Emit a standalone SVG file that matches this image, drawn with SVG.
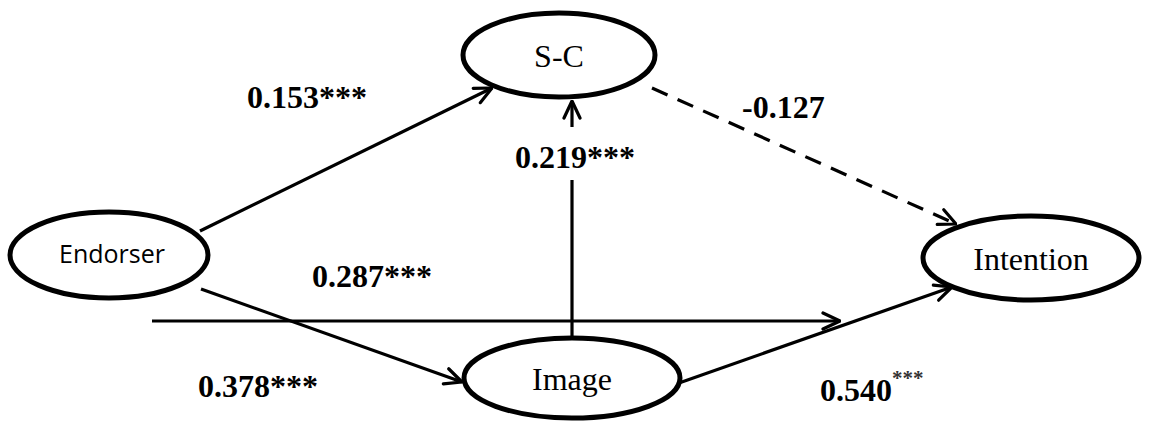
<svg xmlns="http://www.w3.org/2000/svg" width="1158" height="428" viewBox="0 0 1158 428">
  <style>
    .node { fill: #ffffff; stroke: #000000; stroke-width: 5; }
    .lbl { font-family: "Liberation Serif", "Times New Roman", serif; font-size: 32px; fill: #000000; }
    .sans { font-family: "Open Sans", "Liberation Sans", Arial, sans-serif; font-size: 25px; fill: #000000; }
    .coef { font-family: "Liberation Serif", "Times New Roman", serif; font-size: 32px; font-weight: bold; fill: #000000; }
    .sup { font-family: "Liberation Serif", "Times New Roman", serif; font-size: 21px; fill: #333333; }
    .link { stroke: #000000; stroke-width: 3.2; fill: none; }
    .dash { stroke-dasharray: 17 11; }
  </style>
  <defs>
    <marker id="open" viewBox="0 0 20 20" refX="19" refY="10" markerWidth="20" markerHeight="20" markerUnits="userSpaceOnUse" orient="auto">
      <path d="M2,2 L19,10 L2,18" fill="none" stroke="#000000" stroke-width="3.2" stroke-linecap="round" stroke-linejoin="round"/>
    </marker>
  </defs>

  <rect width="1158" height="428" fill="#ffffff"/>

  <!-- paths between constructs -->
  <g id="connectors">
    <line class="link" x1="200" y1="231" x2="492" y2="88" marker-end="url(#open)"/>
    <line class="link" x1="201" y1="289" x2="462" y2="382" marker-end="url(#open)"/>
    <line class="link" x1="152" y1="321" x2="840" y2="321" marker-end="url(#open)"/>
    <line class="link" x1="572" y1="338" x2="572" y2="180"/>
    <line class="link" x1="572" y1="127" x2="572" y2="101" marker-end="url(#open)"/>
    <line class="link" x1="679" y1="383" x2="952" y2="287" marker-end="url(#open)"/>
    <line class="link dash" x1="652" y1="88" x2="956" y2="224" marker-end="url(#open)"/>
  </g>

  <g id="node-endorser">
    <ellipse class="node" cx="109" cy="255" rx="99" ry="43"/>
    <text class="sans" x="112" y="263" text-anchor="middle">Endorser</text>
  </g>
  <g id="node-sc">
    <ellipse class="node" cx="559" cy="55" rx="96" ry="42"/>
    <text class="lbl" x="559" y="67" text-anchor="middle">S-C</text>
  </g>
  <g id="node-image">
    <ellipse class="node" cx="572" cy="378" rx="108" ry="40"/>
    <text class="lbl" x="572" y="390" text-anchor="middle">Image</text>
  </g>
  <g id="node-intention">
    <ellipse class="node" cx="1031" cy="258" rx="108" ry="42"/>
    <text class="lbl" x="1031" y="270" text-anchor="middle">Intention</text>
  </g>

  <!-- path coefficients -->
  <g id="coefficients">
    <text class="coef" x="247" y="108">0.153***</text>
    <text class="coef" x="515" y="168">0.219***</text>
    <text class="coef" x="742" y="118">-0.127</text>
    <text class="coef" x="312" y="287">0.287***</text>
    <text class="coef" x="198" y="397">0.378***</text>
    <text class="coef" x="820" y="401">0.540<tspan class="sup" dy="-16">***</tspan></text>
  </g>
</svg>
